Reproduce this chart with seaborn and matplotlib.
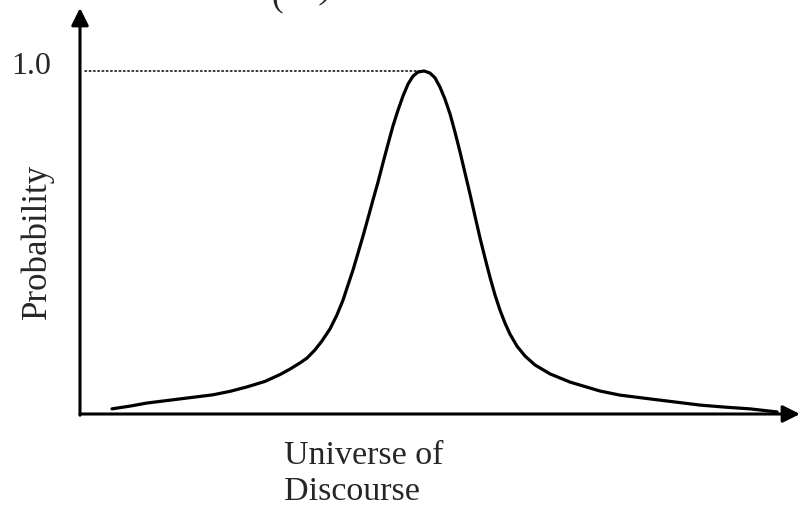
import matplotlib
matplotlib.use("Agg")
import matplotlib.pyplot as plt
import seaborn as sns
import pandas as pd

# Position along the universe of discourse (0-100) and probability
universe = [4.44, 6.94, 9.31, 13.89, 18.47, 20.83, 23.19, 25.69, 27.78, 29.17,
            30.56, 31.53, 32.64, 33.61, 34.72, 35.69, 36.53, 37.22, 37.92, 38.61,
            39.31, 40.00, 40.69, 41.39, 42.08, 42.78, 43.47, 44.17, 44.86, 45.56,
            46.25, 46.94, 47.78, 48.61, 49.31, 50.00, 50.69, 51.39, 52.08, 52.78,
            53.47, 54.17, 54.86, 55.56, 56.25, 56.94, 57.64, 58.33, 59.03, 59.72,
            60.69, 61.81, 63.19, 65.28, 68.06, 72.22, 75.00, 79.17, 82.64, 86.11,
            89.58, 93.06, 96.81]
probability = [0.015, 0.023, 0.032, 0.044, 0.056, 0.066, 0.079, 0.095, 0.115, 0.131,
               0.149, 0.163, 0.187, 0.213, 0.248, 0.289, 0.332, 0.376, 0.420, 0.469,
               0.519, 0.571, 0.624, 0.676, 0.732, 0.787, 0.840, 0.886, 0.927, 0.962,
               0.985, 0.997, 1.0, 0.994, 0.980, 0.953, 0.918, 0.875, 0.822, 0.764,
               0.703, 0.641, 0.577, 0.513, 0.455, 0.399, 0.347, 0.303, 0.265, 0.233,
               0.198, 0.169, 0.143, 0.117, 0.093, 0.067, 0.055, 0.044, 0.035, 0.026,
               0.020, 0.015, 0.006]
peak_value = 1.0
peak_label = "1.0"
x_label = "Universe of\nDiscourse"
y_label = "Probability"

sns.set_theme(style="white")
plt.rcParams["font.family"] = ["Liberation Serif", "DejaVu Serif"]

W, H = 801, 508
fig = plt.figure(figsize=(W / 100, H / 100), dpi=100)
fig.patch.set_facecolor("white")

# axes box in pixels: left 80, bottom edge at y=414, right 800, top 8
left, right, top, bottom = 80, 800, 8, 414
ax = fig.add_axes([left / W, (H - bottom) / H, (right - left) / W, (bottom - top) / H])
ax.set_xlim(0, 100)
ax.set_ylim(0, (bottom - top) / 343)
ax.set_facecolor("white")
for s in ax.spines.values():
    s.set_visible(False)
ax.set_xticks([])
ax.set_yticks([])

df = pd.DataFrame({"universe": universe, "probability": probability})
sns.lineplot(data=df, x="universe", y="probability", ax=ax, color="black",
             linewidth=2.3, sort=False, legend=False,
             solid_joinstyle="round", solid_capstyle="round")

# dotted guide at the peak height
peak_x = universe[probability.index(peak_value)]
ax.plot([0.7, peak_x - 0.6], [peak_value, peak_value], color="black",
        linewidth=1.1, linestyle=(0, (1, 1.8)), dash_capstyle="round")

# arrowed axes
arrow = dict(arrowstyle="-|>", color="black", lw=2.2, mutation_scale=26,
             shrinkA=0, shrinkB=0)
ax.annotate("", xy=(0, 1), xytext=(0, -0.003), xycoords="axes fraction",
            textcoords="axes fraction", arrowprops=arrow, annotation_clip=False)
ax.annotate("", xy=(1, 0), xytext=(0, 0), xycoords="axes fraction",
            textcoords="axes fraction", arrowprops=arrow, annotation_clip=False)

fig.text(31 / W, 1 - 67 / H, peak_label, ha="center", va="center", fontsize=23)
fig.text(37 / W, 1 - 241 / H, y_label, ha="center", va="center", fontsize=25,
         rotation=90)
fig.text(284 / W, 1 - 441 / H, x_label, ha="left", va="top", fontsize=24.5,
         multialignment="left", linespacing=1.2)

# parentheses of the heading above, clipped by the top edge
fig.text(277 / W, 1 - 5 / H, "(", ha="center", va="baseline", fontsize=25)
fig.text(326 / W, 1 + 3 / H, ")", ha="center", va="baseline", fontsize=25,
         style="italic")

fig.savefig("out.png", dpi=100, facecolor="white")
